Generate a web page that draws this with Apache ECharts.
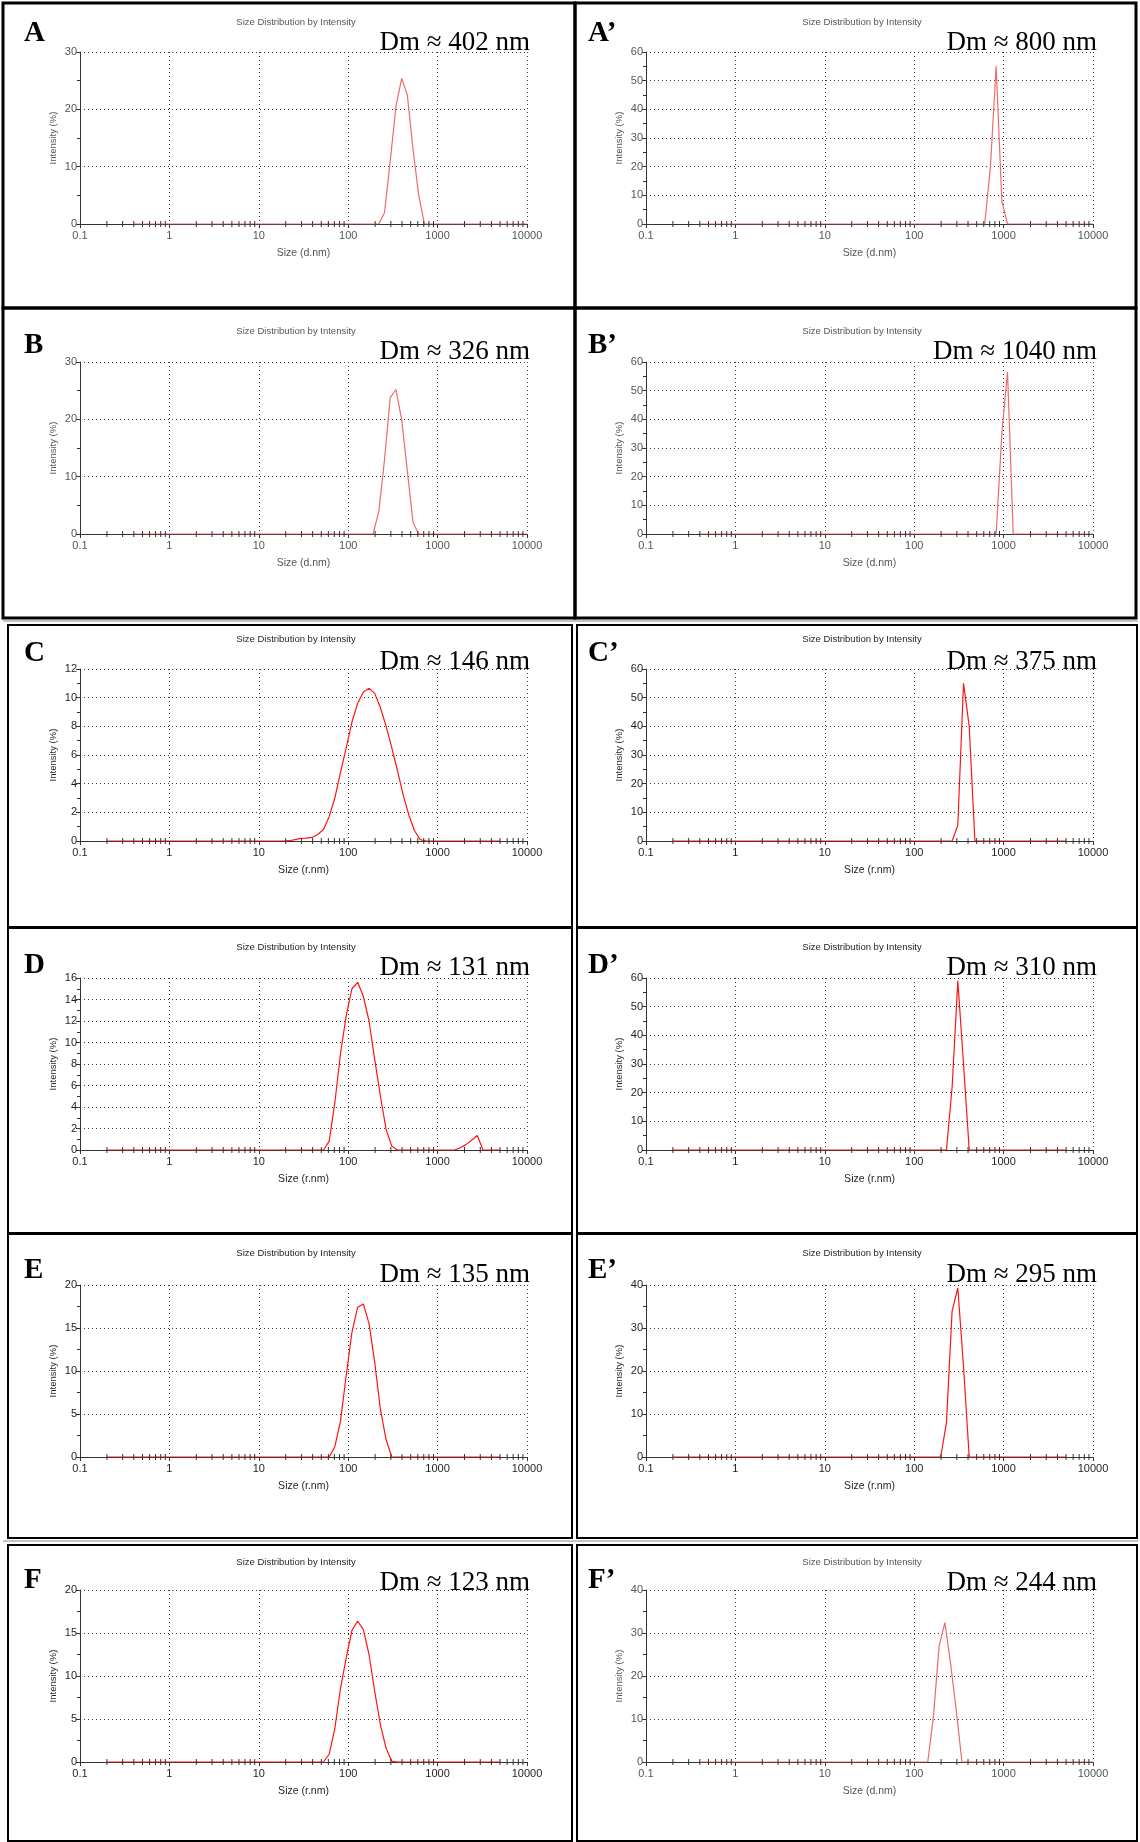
<!DOCTYPE html>
<html>
<head>
<meta charset="utf-8">
<title>Size Distribution by Intensity</title>
<script src="https://cdn.jsdelivr.net/npm/echarts@6/dist/echarts.min.js"></script>
<style>
  html, body { margin: 0; padding: 0; background: #fff; }
  #main { width: 1140px; height: 1842px; }
</style>
</head>
<body>
<div id="main"></div>
<script>
/*** DLS size distributions (Zetasizer bins) ***/
// diameter bins, nm
var sizeD = [0.4, 0.4632, 0.5365, 0.6213, 0.7195, 0.8332, 0.9649, 1.117, 1.294, 1.499,
	1.736, 2.01, 2.328, 2.696, 3.122, 3.615, 4.187, 4.849, 5.615, 6.503,
	7.531, 8.721, 10.1, 11.7, 13.54, 15.69, 18.17, 21.04, 24.36, 28.21,
	32.67, 37.84, 43.82, 50.75, 58.77, 68.06, 78.82, 91.28, 105.7, 122.4,
	141.8, 164.2, 190.1, 220.2, 255.0, 295.3, 342.0, 396.1, 458.7, 531.2,
	615.1, 712.4, 825.0, 955.4, 1106, 1281, 1484, 1718, 1990, 2305,
	2669, 3091, 3580, 4145, 4801, 5560, 6439, 7456, 8635, 10000];
// radius bins, nm
var sizeR = [0.2, 0.2316, 0.2683, 0.3107, 0.3598, 0.4166, 0.4825, 0.5585, 0.647, 0.7495,
	0.868, 1.005, 1.164, 1.348, 1.561, 1.808, 2.094, 2.424, 2.808, 3.252,
	3.766, 4.361, 5.05, 5.85, 6.77, 7.845, 9.085, 10.52, 12.18, 14.1,
	16.34, 18.92, 21.91, 25.38, 29.39, 34.03, 39.41, 45.64, 52.85, 61.2,
	70.9, 82.1, 95.05, 110.1, 127.5, 147.7, 171, 198, 229.4, 265.6,
	307.6, 356.2, 412.5, 477.7, 553, 640.5, 742, 859, 995, 1153,
	1335, 1546, 1790, 2073, 2401, 2780, 3220, 3728, 4318, 5000];

// intensity (%) per bin
var intA = [0,0,0,0,0,0,0,0,0,0, 0,0,0,0,0,0,0,0,0,0, 0,0,0,0,0,0,0,0,0,0, 0,0,0,0,0,0,0,0,0,0,
	0,0,0,0,2,11,20.5,25.4,22.5,13, 5,0,0,0,0,0,0,0,0,0, 0,0,0,0,0,0,0,0,0,0];
var intAp = [0,0,0,0,0,0,0,0,0,0, 0,0,0,0,0,0,0,0,0,0, 0,0,0,0,0,0,0,0,0,0, 0,0,0,0,0,0,0,0,0,0,
	0,0,0,0,0,0,0,0,0,0, 0,20,55,8,0,0,0,0,0,0, 0,0,0,0,0,0,0,0,0,0];
var intB = [0,0,0,0,0,0,0,0,0,0, 0,0,0,0,0,0,0,0,0,0, 0,0,0,0,0,0,0,0,0,0, 0,0,0,0,0,0,0,0,0,0,
	0,0,0,4,13,23.8,25.2,20,11,2, 0,0,0,0,0,0,0,0,0,0, 0,0,0,0,0,0,0,0,0,0];
var intBp = [0,0,0,0,0,0,0,0,0,0, 0,0,0,0,0,0,0,0,0,0, 0,0,0,0,0,0,0,0,0,0, 0,0,0,0,0,0,0,0,0,0,
	0,0,0,0,0,0,0,0,0,0, 0,0,0,35,56.5,0,0,0,0,0, 0,0,0,0,0,0,0,0,0,0];
var intC = [0,0,0,0,0,0,0,0,0,0, 0,0,0,0,0,0,0,0,0,0, 0,0,0,0,0,0,0,0,0,0,
	0,0,0.02,0.1,0.18,0.2,0.25,0.45,0.8,1.7, 3.0,4.8,6.5,8.3,9.6,10.4,10.65,10.3,9.3,8.0,
	6.5,4.9,3.2,1.8,0.7,0.1,0,0,0,0, 0,0,0,0,0,0,0,0,0,0];
var intCp = [0,0,0,0,0,0,0,0,0,0, 0,0,0,0,0,0,0,0,0,0, 0,0,0,0,0,0,0,0,0,0, 0,0,0,0,0,0,0,0,0,0,
	0,0,0,0,0,0,0,0,0,0, 5.5,55,40,0,0,0,0,0,0,0, 0,0,0,0,0,0,0,0,0,0];
var intD = [0,0,0,0,0,0,0,0,0,0, 0,0,0,0,0,0,0,0,0,0, 0,0,0,0,0,0,0,0,0,0,
	0,0,0,0,0,0,0,0,0,0.8, 4.4,9,12.5,15,15.6,14.3,12,8.4,5,1.9,
	0.35,0,0,0,0,0,0,0,0,0, 0,0,0.2,0.5,0.9,1.35,0,0,0,0];
var intDp = [0,0,0,0,0,0,0,0,0,0, 0,0,0,0,0,0,0,0,0,0, 0,0,0,0,0,0,0,0,0,0, 0,0,0,0,0,0,0,0,0,0,
	0,0,0,0,0,0,0,0,0,22, 59,30,0,0,0,0,0,0,0,0, 0,0,0,0,0,0,0,0,0,0];
var intE = [0,0,0,0,0,0,0,0,0,0, 0,0,0,0,0,0,0,0,0,0, 0,0,0,0,0,0,0,0,0,0, 0,0,0,0,0,0,0,0,0,0,
	1.2,4.2,9.5,14.5,17.4,17.8,15.5,11,5.5,2, 0,0,0,0,0,0,0,0,0,0, 0,0,0,0,0,0,0,0,0,0];
var intEp = [0,0,0,0,0,0,0,0,0,0, 0,0,0,0,0,0,0,0,0,0, 0,0,0,0,0,0,0,0,0,0, 0,0,0,0,0,0,0,0,0,0,
	0,0,0,0,0,0,0,0,8,34, 39.3,21,0,0,0,0,0,0,0,0, 0,0,0,0,0,0,0,0,0,0];
var intF = [0,0,0,0,0,0,0,0,0,0, 0,0,0,0,0,0,0,0,0,0, 0,0,0,0,0,0,0,0,0,0,
	0,0,0,0,0,0,0,0,0,0.9, 3.9,8.6,12.1,15.3,16.4,15.4,12.5,8.2,4.3,1.6,
	0.1,0,0,0,0,0,0,0,0,0, 0,0,0,0,0,0,0,0,0,0];
var intFp = [0,0,0,0,0,0,0,0,0,0, 0,0,0,0,0,0,0,0,0,0, 0,0,0,0,0,0,0,0,0,0, 0,0,0,0,0,0,0,0,0,0,
	0,10.6,27,32.4,23,12,0,0,0,0, 0,0,0,0,0,0,0,0,0,0, 0,0,0,0,0,0,0,0,0,0];

// panels, in reading order A, A', B, B' ...
var panelLetters = ["A", "A’", "B", "B’", "C", "C’", "D", "D’", "E", "E’", "F", "F’"];
var dmLabels = ["Dm ≈ 402 nm", "Dm ≈ 800 nm", "Dm ≈ 326 nm", "Dm ≈ 1040 nm", "Dm ≈ 146 nm", "Dm ≈ 375 nm",
	"Dm ≈ 131 nm", "Dm ≈ 310 nm", "Dm ≈ 135 nm", "Dm ≈ 295 nm", "Dm ≈ 123 nm", "Dm ≈ 244 nm"];
var sizeUnits = ["d", "d", "d", "d", "r", "r", "r", "r", "r", "r", "r", "d"];
var intensities = [intA, intAp, intB, intBp, intC, intCp, intD, intDp, intE, intEp, intF, intFp];
var yMaxes = [30, 60, 30, 60, 12, 60, 16, 60, 20, 40, 20, 40];
var ySteps = [10, 10, 10, 10, 2, 10, 2, 10, 5, 10, 5, 10];

// axis ticks
var xTickLabels = ["0.1", "1", "10", "100", "1000", "10000"];
var xMinorTicks = [0.2, 0.3, 0.4, 0.5, 0.6, 0.7, 0.8, 0.9,
	2, 3, 4, 5, 6, 7, 8, 9,
	20, 30, 40, 50, 60, 70, 80, 90,
	200, 300, 400, 500, 600, 700, 800, 900,
	2000, 3000, 4000, 5000, 6000, 7000, 8000, 9000];
var chartTitle = "Size Distribution by Intensity";

var dlsFigure = {
	// layout
	rowTop: [52, 362, 669, 978, 1285, 1590],
	colLeft: [80, 646],
	gridW: 447,
	gridH: 172,
	rowTitleY: [22, 331, 639, 947, 1253, 1562],
	colTitleX: [296, 862],
	rowDmY: [43, 352, 662, 968, 1275, 1583],
	colDmRight: [530, 1097],
	rowLetterY: [34, 346, 654, 966, 1271, 1581],
	colLetterX: [24, 588],

	init: function() {
		var chart = echarts.init(document.getElementById("main"), null, { renderer: "canvas" });
		chart.setOption(this.buildOption());
	},
	// crisp (r.nm) panels vs. blurred (d.nm) screenshots
	lineColor: function(i) {
		return sizeUnits[i] === "r" ? "#ff1414" : "#f06a6a";
	},
	textColor: function(i) {
		return sizeUnits[i] === "r" ? "#1e1e1e" : "#555555";
	},
	buildOption: function() {
		var self = this;
		var grids = [], xAxes = [], yAxes = [], series = [], graphics = [];
		for (var i = 0; i < 12; i++) {
			var row = Math.floor(i / 2), col = i % 2;
			var tc = self.textColor(i);
			var sizes = sizeUnits[i] === "r" ? sizeR : sizeD;
			grids.push({
				left: self.colLeft[col],
				top: self.rowTop[row],
				width: self.gridW,
				height: self.gridH,
				outerBoundsMode: "none"
			});
			xAxes.push({
				type: "log",
				logBase: 10,
				gridIndex: i,
				min: 0.1,
				max: 10000,
				name: "Size (" + sizeUnits[i] + ".nm)",
				nameLocation: "middle",
				nameGap: 24,
				nameTextStyle: { color: tc, fontSize: 10.5, fontFamily: "Liberation Sans" },
				axisLine: { show: true, onZero: false, lineStyle: { color: "#333", width: 1 } },
				axisTick: { show: true, length: 4, lineStyle: { color: "#333" } },
				axisLabel: {
					color: tc,
					fontSize: 11,
					fontFamily: "Liberation Sans",
					margin: 6,
					formatter: function(v) {
						for (var k = 0; k < xTickLabels.length; k++) {
							if (Math.abs(+xTickLabels[k] - v) < 1e-6 * Math.max(1, v)) return xTickLabels[k];
						}
						return "";
					}
				},
				splitLine: { show: true, lineStyle: { color: "#3a3a3a", type: [1, 3], width: 1 } }
			});
			yAxes.push({
				type: "value",
				gridIndex: i,
				min: 0,
				max: yMaxes[i],
				interval: ySteps[i],
				name: "Intensity (%)",
				nameLocation: "middle",
				nameGap: 22,
				nameTextStyle: { color: tc, fontSize: 9.5, fontFamily: "Liberation Sans" },
				axisLine: { show: true, lineStyle: { color: "#333", width: 1 } },
				axisTick: { show: true, length: 4, lineStyle: { color: "#333" } },
				minorTick: { show: true, splitNumber: 2, length: 3, lineStyle: { color: "#333" } },
				axisLabel: { color: tc, fontSize: 11, fontFamily: "Liberation Sans", margin: 3 },
				splitLine: { show: true, lineStyle: { color: "#3a3a3a", type: [1, 3], width: 1 } }
			});
			series.push({
				type: "line",
				xAxisIndex: i,
				yAxisIndex: i,
				data: sizes.map(function(s, k) { return [s, intensities[i][k]]; }),
				showSymbol: false,
				symbol: "none",
				lineStyle: { color: self.lineColor(i), width: 1.2 },
				z: 3
			});
			// minor ticks of the log axis (2..9 of each decade)
			series.push({
				type: "custom",
				xAxisIndex: i,
				yAxisIndex: i,
				silent: true,
				clip: false,
				z: 4,
				data: xMinorTicks.map(function(v) { return [v, 0]; }),
				renderItem: function(params, api) {
					var p = api.coord([api.value(0), api.value(1)]);
					return {
						type: "line",
						shape: { x1: p[0], y1: p[1] - 3, x2: p[0], y2: p[1] + 3 },
						style: { stroke: "#333", lineWidth: 1 }
					};
				}
			});
			graphics.push({
				type: "text",
				x: self.colTitleX[col],
				y: self.rowTitleY[row],
				style: {
					text: chartTitle, fill: tc, font: "9.5px 'Liberation Sans'",
					textAlign: "center", textVerticalAlign: "middle"
				}
			});
			graphics.push({
				type: "text",
				x: self.colDmRight[col],
				y: self.rowDmY[row],
				style: {
					text: dmLabels[i], fill: "#000", font: "27px 'Liberation Serif'",
					textAlign: "right", textVerticalAlign: "middle"
				}
			});
			graphics.push({
				type: "text",
				x: self.colLetterX[col],
				y: self.rowLetterY[row],
				style: {
					text: panelLetters[i], fill: "#000", font: "bold 29px 'Liberation Serif'",
					textAlign: "left", textVerticalAlign: "middle"
				}
			});
		}
		// panel frames
		var frames = [
			[3, 3, 572, 305, 3], [575, 3, 561, 305, 3],
			[3, 308, 572, 310, 3], [575, 308, 561, 310, 3],
			[8, 625, 564, 302, 2], [577, 625, 560, 302, 2],
			[8, 928, 564, 305, 2], [577, 928, 560, 305, 2],
			[8, 1234, 564, 304, 2], [577, 1234, 560, 304, 2],
			[8, 1545, 564, 296, 2], [577, 1545, 560, 296, 2]
		];
		frames.forEach(function(f) {
			graphics.push({
				type: "rect",
				shape: { x: f[0], y: f[1], width: f[2], height: f[3] },
				style: { fill: null, stroke: "#000", lineWidth: f[4] },
				silent: true
			});
		});
		// thin grey separators between the two screenshot sets
		[621, 1541].forEach(function(y) {
			graphics.push({
				type: "line",
				shape: { x1: 3, y1: y, x2: 1138, y2: y },
				style: { stroke: "#888", lineWidth: 1 },
				silent: true
			});
		});
		return {
			backgroundColor: "#ffffff",
			animation: false,
			grid: grids,
			xAxis: xAxes,
			yAxis: yAxes,
			series: series,
			graphic: graphics
		};
	}
};

dlsFigure.init();
</script>
</body>
</html>
